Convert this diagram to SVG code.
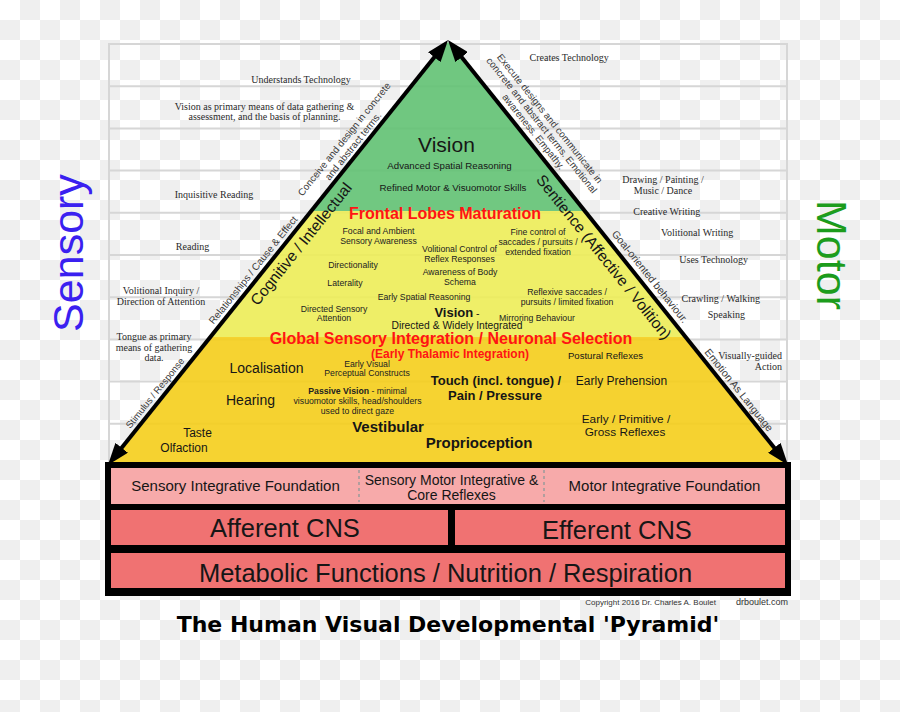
<svg xmlns="http://www.w3.org/2000/svg" width="900" height="712" viewBox="0 0 900 712">
<defs>
<style>
.s{font-family:"Liberation Sans",Arial,Helvetica,sans-serif;fill:#161616;text-anchor:middle}
.t{font-family:"Liberation Serif","Times New Roman",serif;font-size:10px;fill:#2a2a2a;text-anchor:middle}
.b{font-weight:bold}
.red{fill:#ff1414}
.sm{font-size:8.7px;fill:#222}
.rl{fill:#3a3a3a}
.grid{fill:none;stroke:#d6d6d6;stroke-width:2}
.edge{fill:none;stroke:#000;stroke-width:4;marker-start:url(#arrow);marker-end:url(#arrow)}
.pink{fill:#f7aaaa}
.redbox{fill:#f07272}
</style>
<pattern id="checker" width="40" height="40" patternUnits="userSpaceOnUse">
<rect width="40" height="40" fill="#ffffff"/>
<rect x="20" y="0" width="20" height="20" fill="#efefef"/>
<rect x="0" y="20" width="20" height="20" fill="#efefef"/>
</pattern>
<clipPath id="tri"><polygon points="448,42 109,466 787,466"/></clipPath>
<marker id="arrow" markerUnits="userSpaceOnUse" markerWidth="22" markerHeight="16" viewBox="0 0 22 16" refX="8" refY="8" orient="auto-start-reverse"><path d="M0,0 L22,8 L0,16 z" fill="#000"/></marker>
</defs>

<rect id="background" width="900" height="712" fill="url(#checker)"/>

<g id="grid">
<rect class="grid" x="109" y="44" width="678" height="422"/>
<path class="grid" d="M109,86.2H787M109,128.4H787M109,170.6H787M109,212.8H787M109,255H787M109,297.2H787M109,339.4H787M109,381.6H787M109,423.8H787"/>
</g>

<g id="pyramid-fill" clip-path="url(#tri)" opacity="0.9">
<rect x="100" y="30" width="700" height="181" fill="#62c274"/>
<rect x="100" y="211" width="700" height="126" fill="#eeee58"/>
<rect x="100" y="337" width="700" height="130" fill="#f5cf1b"/>
</g>

<g id="band-vision">
<text class="s" x="446.5" y="152" font-size="21">Vision</text>
<text class="s" x="449.5" y="168.5" font-size="9.7">Advanced Spatial Reasoning</text>
<text class="s" x="453" y="191" font-size="9.7">Refined Motor &amp; Visuomotor Skills</text>
<text class="s b red" x="445" y="218.5" font-size="16">Frontal Lobes Maturation</text>
</g>

<g id="band-directed">
<text class="s sm" x="378.5" y="234">Focal and Ambient</text>
<text class="s sm" x="378.5" y="244">Sensory Awareness</text>
<text class="s sm" x="459.5" y="252">Volitional Control of</text>
<text class="s sm" x="459.5" y="262">Reflex Responses</text>
<text class="s sm" x="538" y="235">Fine control of</text>
<text class="s sm" x="538" y="245">saccades / pursuits /</text>
<text class="s sm" x="538" y="255">extended fixation</text>
<text class="s sm" x="353" y="268">Directionality</text>
<text class="s sm" x="345" y="286">Laterality</text>
<text class="s sm" x="460" y="275">Awareness of Body</text>
<text class="s sm" x="460" y="285">Schema</text>
<text class="s sm" x="424" y="300">Early Spatial Reasoning</text>
<text class="s sm" x="567" y="295">Reflexive saccades /</text>
<text class="s sm" x="567" y="305">pursuits / limited fixation</text>
<text class="s sm" x="334" y="311.5">Directed Sensory</text>
<text class="s sm" x="334" y="321">Attention</text>
<text class="s" x="457" y="317" font-size="10.5"><tspan class="b" font-size="13">Vision</tspan> -</text>
<text class="s" x="457" y="329.2" font-size="10.3">Directed &amp; Widely Integrated</text>
<text class="s sm" x="537" y="320.5">Mirroring Behaviour</text>
<text class="s b red" x="451" y="344" font-size="16">Global Sensory Integration / Neuronal Selection</text>
<text class="s b red" x="450" y="357.5" font-size="12">(Early Thalamic Integration)</text>
</g>

<g id="band-passive">
<text class="s" x="266.5" y="372.5" font-size="14">Localisation</text>
<text class="s sm" x="367" y="366.5">Early Visual</text>
<text class="s sm" x="367" y="376">Perceptual Constructs</text>
<text class="s" x="605.5" y="359" font-size="9.6">Postural Reflexes</text>
<text class="s b" x="496" y="385" font-size="13">Touch (incl. tongue) /</text>
<text class="s b" x="495" y="400" font-size="13">Pain / Pressure</text>
<text class="s" x="621.5" y="385" font-size="12">Early Prehension</text>
<text class="s" x="250.5" y="405" font-size="14">Hearing</text>
<text class="s sm" x="357.5" y="394"><tspan class="b">Passive Vision</tspan> - minimal</text>
<text class="s sm" x="357.5" y="404">visuomotor skills, head/shoulders</text>
<text class="s sm" x="357.5" y="413.5">used to direct gaze</text>
<text class="s b" x="388" y="431.5" font-size="15">Vestibular</text>
<text class="s" x="626" y="423" font-size="11.8">Early / Primitive /</text>
<text class="s" x="625" y="435.5" font-size="11.8">Gross Reflexes</text>
<text class="s" x="197.5" y="436.5" font-size="12">Taste</text>
<text class="s" x="184" y="452" font-size="12">Olfaction</text>
<text class="s b" x="479" y="448" font-size="15">Proprioception</text>
</g>

<g id="sensory-column">
<text class="t" x="301" y="82.5">Understands Technology</text>
<text class="t" x="264.5" y="109.5">Vision as primary means of data gathering &amp;</text>
<text class="t" x="264.5" y="120">assessment, and the basis of planning.</text>
<text class="t" x="214" y="197.5">Inquisitive Reading</text>
<text class="t" x="192.5" y="250">Reading</text>
<text class="t" x="161" y="294.3">Volitional Inquiry /</text>
<text class="t" x="161" y="305.3">Direction of Attention</text>
<text class="t" x="154" y="340">Tongue as primary</text>
<text class="t" x="154" y="350.7">means of gathering</text>
<text class="t" x="154" y="360.7">data.</text>
</g>

<g id="motor-column">
<text class="t" x="569.2" y="60.7">Creates Technology</text>
<text class="t" x="663" y="183.3">Drawing / Painting /</text>
<text class="t" x="663" y="194">Music / Dance</text>
<text class="t" x="666.8" y="215">Creative Writing</text>
<text class="t" x="697.2" y="236">Volitional Writing</text>
<text class="t" x="713.7" y="262.7">Uses Technology</text>
<text class="t" x="720.8" y="302.3">Crawling / Walking</text>
<text class="t" x="726.3" y="318.3">Speaking</text>
<text class="t" x="782" y="359" style="text-anchor:end">Visually-guided</text>
<text class="t" x="782" y="370" style="text-anchor:end">Action</text>
</g>

<g id="axis-labels">
<text class="s" transform="translate(83,253) rotate(-90)" font-size="43" style="fill:#3a20f0">Sensory</text>
<text class="s" transform="translate(817,255) rotate(90)" font-size="43" style="fill:#1c9c1c">Motor</text>
</g>

<g id="connectors">
<path class="edge" d="M116.7,454.1 L439.3,50.9"/>
<path class="edge" d="M456.7,50.9 L779.3,454.1"/>
</g>

<g id="edge-labels-left">
<text class="s rl" transform="translate(155,393) rotate(-51.34)" y="3.3" font-size="9.5">Stimulus / Response</text>
<text class="s rl" transform="translate(253,270) rotate(-51.34)" y="3.5" font-size="10">Relationships / Cause &amp; Effect</text>
<text class="s" transform="translate(301,244) rotate(-51.34)" y="5.4" font-size="15.5">Cognitive / Intellectual</text>
<text class="s rl" transform="translate(348.5,142.5) rotate(-51.34)" font-size="9.8"><tspan x="0" y="-2.2">Conceive and design in concrete</tspan><tspan x="0" y="9.2">and abstract terms.</tspan></text>
</g>

<g id="edge-labels-right">
<text class="s rl" transform="translate(541.8,125.1) rotate(51.34)" font-size="9.8"><tspan x="0" y="-7">Execute designs and communicate in</tspan><tspan x="0" y="3.5">concrete and abstract terms. Emotional</tspan><tspan x="0" y="14">awareness. Empathy.</tspan></text>
<text class="s" transform="translate(604,257) rotate(51.34)" y="5.4" font-size="15.5">Sentience (Affective / Volition)</text>
<text class="s rl" transform="translate(650,276.5) rotate(51.34)" y="3.7" font-size="10.5">Goal-oriented behaviour.</text>
<text class="s rl" transform="translate(739,390) rotate(51.34)" y="3.7" font-size="10.5">Emotion As Language</text>
</g>

<g id="foundation">
<rect x="105" y="462" width="686" height="134" fill="#000"/>
<g id="integrative-row">
<rect class="pink" x="111" y="468" width="674" height="36"/>
<path d="M359,470V502M544,470V502" stroke="#9a9a9a" stroke-width="1.5" stroke-dasharray="3,3"/>
<text class="s" x="235.5" y="491" font-size="15">Sensory Integrative Foundation</text>
<text class="s" x="451.5" y="484.5" font-size="14">Sensory Motor Integrative &amp;</text>
<text class="s" x="451.5" y="499.5" font-size="14">Core Reflexes</text>
<text class="s" x="664.5" y="491" font-size="15">Motor Integrative Foundation</text>
</g>
<g id="afferent">
<rect class="redbox" x="111" y="510" width="337" height="35"/>
<text class="s" x="285" y="536.7" font-size="25.5">Afferent CNS</text>
</g>
<g id="efferent">
<rect class="redbox" x="455" y="510" width="330" height="35"/>
<text class="s" x="617" y="538.5" font-size="25.5">Efferent CNS</text>
</g>
<g id="metabolic">
<rect class="redbox" x="111" y="553" width="674" height="35"/>
<text class="s" x="445.5" y="581.7" font-size="25.5">Metabolic Functions / Nutrition / Respiration</text>
</g>
</g>

<g id="credits">
<text class="s" x="716" y="605" font-size="8" style="text-anchor:end;fill:#333">Copyright 2016 Dr. Charles A. Boulet</text>
<text class="s" x="788" y="605" font-size="9" style="text-anchor:end;fill:#333">drboulet.com</text>
<text x="448" y="632" font-family="'DejaVu Sans',Verdana,sans-serif" font-weight="bold" font-size="22" text-anchor="middle" fill="#000">The Human Visual Developmental 'Pyramid'</text>
</g>
</svg>
